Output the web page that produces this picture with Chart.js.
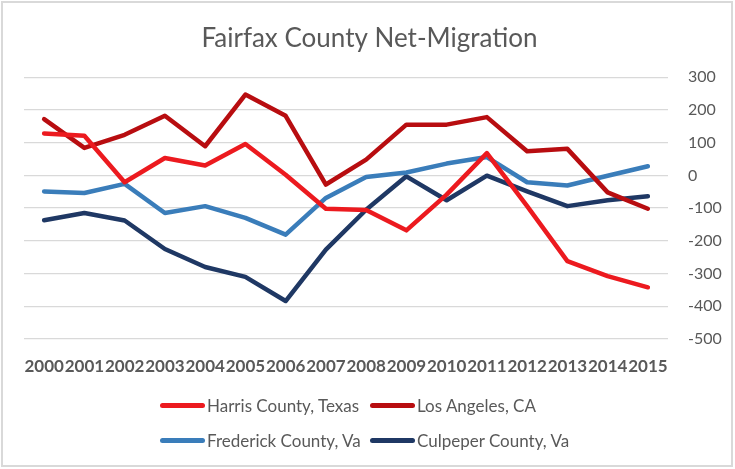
<!DOCTYPE html>
<html>
<head>
<meta charset="utf-8">
<script src="https://cdn.jsdelivr.net/npm/chart.js@4"></script>
<style>
  body { margin: 0; background: #fff; }
  #wrap { position: relative; width: 735px; height: 469px; overflow: hidden; }
  #frame { position: absolute; left: 1px; top: 1px; width: 732px; height: 466px;
           border: 2px solid #d9d9d9; box-sizing: border-box; pointer-events: none; }
  canvas { position: absolute; left: 0; top: 0; }
  .legend { position: absolute; left: 160px; top: 393px; display: grid;
            grid-template-columns: 210px auto; row-gap: 11px;
            font: 17px Lato, sans-serif; color: #595959; }
  .item { display: flex; align-items: center; height: 24px; white-space: nowrap; }
  .swatch { width: 45px; height: 5px; border-radius: 3px; margin-right: 2px; }
</style>
</head>
<body>
<div id="wrap">
  <canvas id="chart" width="735" height="469"></canvas>
  <div class="legend" id="legend"></div>
  <div id="frame"></div>
</div>
<script>
// ── Data ──────────────────────────────────────────────────────────────────────
const years = ["2000","2001","2002","2003","2004","2005","2006","2007",
               "2008","2009","2010","2011","2012","2013","2014","2015"];

const harris     = [128, 121, -21, 53, 30, 96, 2, -102, -106, -168, -59, 68, -94, -262, -308, -342];
const losAngeles = [172, 84, 124, 182, 89, 247, 182, -28, 48, 155, 155, 178, 74, 81, -52, -102];
const frederick  = [-49, -54, -26, -115, -94, -130, -181, -69, -5, 9, 36, 56, -21, -31, -1, 28];
const culpeper   = [-137, -115, -138, -225, -280, -310, -384, -227, -105, -3, -76, -1, -49, -94, -76, -64];

const yTicks = [300, 200, 100, 0, -100, -200, -300, -400, -500];

const SERIES = [
  { label: "Harris County, Texas", data: harris,     color: "#ec1a1f" },
  { label: "Los Angeles, CA",      data: losAngeles, color: "#b80d10" },
  { label: "Frederick County, Va", data: frederick,  color: "#3a7dba" },
  { label: "Culpeper County, Va",  data: culpeper,   color: "#1f3864" },
];

// ── Chart ─────────────────────────────────────────────────────────────────────
new Chart(document.getElementById("chart").getContext("2d"), {
  type: "line",
  data: {
    labels: years,
    datasets: SERIES.map(s => ({
      label: s.label, data: s.data, borderColor: s.color, backgroundColor: s.color,
      borderWidth: 4.5, pointRadius: 0, tension: 0, fill: false,
      borderJoinStyle: "round", borderCapStyle: "round", yAxisID: "y",
    })),
  },
  options: {
    responsive: false,
    animation: false,
    layout: { padding: { left: 4, right: 0, top: 0, bottom: 89 } },
    plugins: {
      legend: { display: false },
      tooltip: { enabled: false },
      title: {
        display: true, text: "Fairfax County Net-Migration", color: "#595959",
        font: { family: "Lato", size: 26, weight: "normal" },
        padding: { top: 23, bottom: 23 },
      },
    },
    scales: {
      x: {
        offset: true,
        grid: { display: false },
        border: { display: false },
        afterFit: axis => { axis.height = 41; },
        ticks: { color: "#595959", autoSkip: false, maxRotation: 0, minRotation: 0, padding: 9,
                 font: { family: "Lato", size: 17, weight: "bold" } },
      },
      y: {
        position: "right",
        min: -500, max: 300,
        afterBuildTicks: axis => { axis.ticks = yTicks.map(v => ({ value: v })); },
        afterFit: axis => { axis.width = 67; },
        grid: { color: "#d9d9d9", lineWidth: 1.3, drawTicks: false },
        border: { display: false },
        ticks: { color: "#595959", padding: 20, font: { family: "Lato", size: 16 } },
      },
      // empty spacer on the left so the plot starts at the right x
      spacer: {
        type: "linear", position: "left", min: 0, max: 1,
        grid: { display: false }, border: { display: false }, ticks: { display: false },
        afterFit: axis => { axis.width = 20; },
      },
    },
  },
});

// ── Legend ────────────────────────────────────────────────────────────────────
document.getElementById("legend").innerHTML = SERIES.map(s => `
  <div class="item"><span class="swatch" style="background:${s.color}"></span>${s.label}</div>
`).join("");
</script>
</body>
</html>
